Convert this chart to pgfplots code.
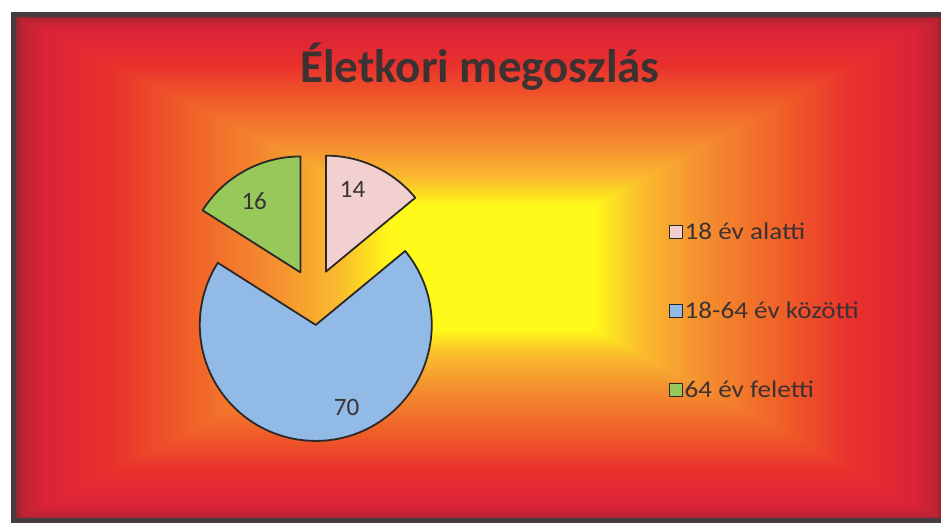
\documentclass[border=0pt]{standalone}
\usepackage{pgfplots}
\pgfplotsset{compat=1.18}
\usepackage{pgfplotstable}
\usepackage{fontspec}
\setmainfont{Carlito}
\definecolor{pinkc}{RGB}{242,208,208}
\definecolor{bluec}{RGB}{146,186,230}
\definecolor{greenc}{RGB}{150,200,90}
\definecolor{edgec}{RGB}{45,40,40}
\definecolor{txt}{RGB}{60,50,50}
\definecolor{framec}{RGB}{70,62,62}
\pgfplotsset{colormap={bg}{rgb255(0cm)=(130,40,48) rgb255(2cm)=(185,35,52) rgb255(8cm)=(220,35,55) rgb255(26cm)=(233,48,45) rgb255(46cm)=(240,95,40) rgb255(70cm)=(245,145,48) rgb255(87cm)=(250,190,45) rgb255(100cm)=(255,250,25)}}

\pgfplotstableread{
label value col
{18 év alatti} 14 pinkc
{18-64 év közötti} 70 bluec
{64 év feletti} 16 greenc
}\piedata

\begin{document}%
\pgfplotstablegetelem{0}{value}\of\piedata \edef\va{\pgfplotsretval}%
\pgfplotstablegetelem{1}{value}\of\piedata \edef\vb{\pgfplotsretval}%
\pgfplotstablegetelem{2}{value}\of\piedata \edef\vc{\pgfplotsretval}%
\pgfmathsetmacro\tot{\va+\vb+\vc}%
\pgfmathsetmacro\sA{90}%
\pgfmathsetmacro\eA{90-360*(\va/\tot)}%
\pgfmathsetmacro\eB{\eA-360*(\vb/\tot)}%
\pgfmathsetmacro\eC{\eB-360*(\vc/\tot)}%
\pgfmathsetmacro\mA{(\sA+\eA)/2}%
\pgfmathsetmacro\mB{(\eA+\eB)/2}%
\pgfmathsetmacro\mC{(\eB+\eC)/2}%
\begin{tikzpicture}[x=1pt,y=1pt]
\useasboundingbox (0,0) rectangle (941,526);
\fill[white] (0,0) rectangle (941,526);
\begin{scope}
\clip (0,0) rectangle (941,526);
\foreach \i in {0,...,150}{
  \pgfmathsetmacro\t{\i/150}
  \pgfmathsetmacro\cv{\t*1000}
  \fill[/pgfplots/color of colormap={\cv\space of bg}] ({13+\t*(390-13)},{5+\t*(196-5)}) rectangle ({945-\t*(945-595)},{511-\t*(511-321)});
}
\draw[framec, line width=5pt] (13,5) rectangle (948,511);
\begin{axis}[
  at={(0,0)}, anchor=south west,
  scale only axis, width=941pt, height=526pt,
  xmin=0, xmax=941, ymin=0, ymax=526,
  hide axis, clip=false,
  legend image code/.code={\draw[#1, draw=edgec, line width=1.2pt] (0pt,-6.5pt) rectangle (13pt,6.5pt);},
  legend cell align=left,
  legend style={at={(0.707,0.409)}, anchor=west, draw=none, fill=none,
    row sep=57pt, font=\fontsize{24}{28}\selectfont\color{txt}},
]
\addlegendimage{fill=pinkc}
\addlegendentry{\scalebox{1.13}[1]{18 év alatti}}
\addlegendimage{fill=bluec}
\addlegendentry{\scalebox{1.13}[1]{18-64 év közötti}}
\addlegendimage{fill=greenc}
\addlegendentry{\scalebox{1.13}[1]{64 év feletti}}

\fill[pinkc, draw=edgec, line width=1.8pt, line join=round] (axis cs:314,229) ++(\mA:28pt) -- ++(\sA:116pt) arc[start angle=\sA, end angle=\eA, radius=116pt] -- cycle;
\fill[bluec, draw=edgec, line width=1.8pt, line join=round] (axis cs:314,229) ++(\mB:28pt) -- ++(\eA:116pt) arc[start angle=\eA, end angle=\eB, radius=116pt] -- cycle;
\fill[greenc, draw=edgec, line width=1.8pt, line join=round] (axis cs:314,229) ++(\mC:28pt) -- ++(\eB:116pt) arc[start angle=\eB, end angle=\eC, radius=116pt] -- cycle;

\node[font=\fontsize{25}{29}\selectfont, text=txt] at ([shift={(\mA:28pt)}]axis cs:314,229) [shift={(72:86pt)}] {\va};
\node[font=\fontsize{25}{29}\selectfont, text=txt] at ([shift={(\mB:28pt)}]axis cs:314,229) [shift={(-69.5:88pt)}] {\vb};
\node[font=\fontsize{25}{29}\selectfont, text=txt] at ([shift={(\mC:28pt)}]axis cs:314,229) [shift={(123:85pt)}] {\vc};

\node[anchor=base, font=\fontsize{47}{54}\selectfont\bfseries, text=txt] at (axis cs:480,443) {Életkori megoszlás};
\end{axis}
\end{scope}
\end{tikzpicture}%
\end{document}
